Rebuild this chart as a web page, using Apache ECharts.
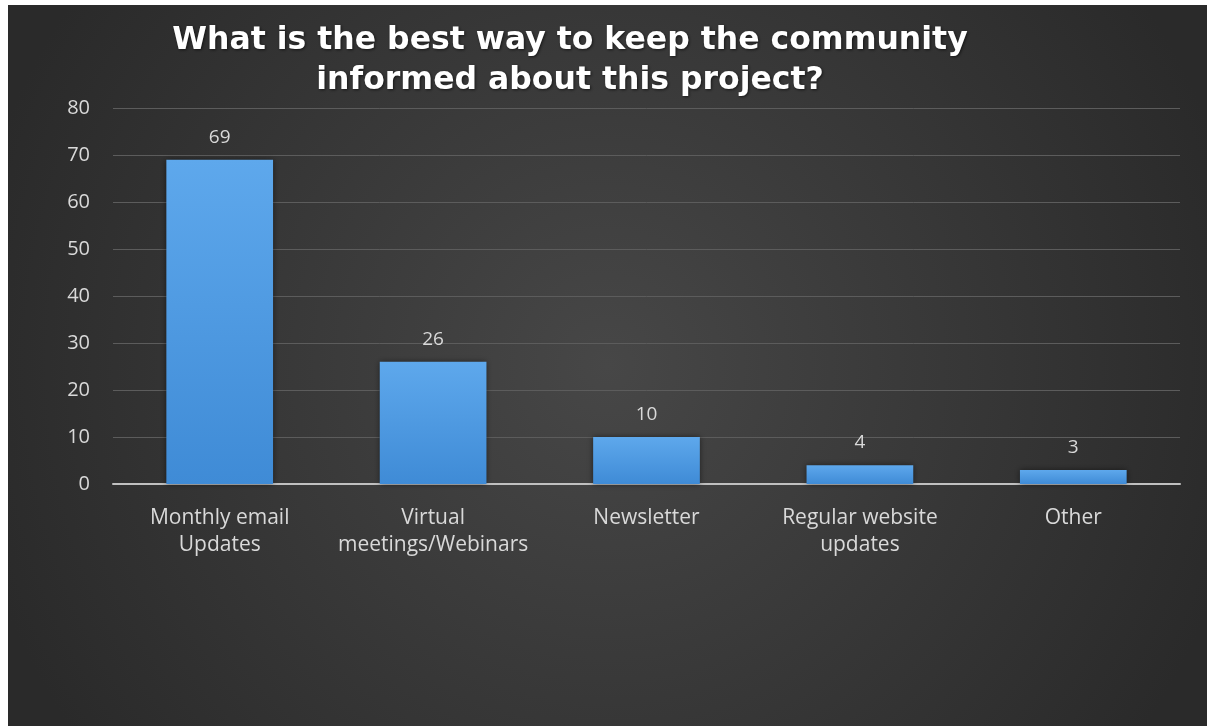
<!DOCTYPE html>
<html>
<head>
<meta charset="utf-8">
<script src="https://cdn.jsdelivr.net/npm/echarts@6/dist/echarts.min.js"></script>
<style>
html,body{margin:0;padding:0;background:#ffffff;}
#chart{position:absolute;left:0;top:0;width:1207px;height:726px;}
</style>
</head>
<body>
<div id="chart"></div>
<script>
const titleLines = ["What is the best way to keep the community", "informed about this project?"];
const categories = ["Monthly email\nUpdates", "Virtual\nmeetings/Webinars", "Newsletter", "Regular website\nupdates", "Other"];
const values = [69, 26, 10, 4, 3];
const yTicks = { min: 0, max: 80, interval: 10 };

const chart = echarts.init(document.getElementById('chart'), null, { renderer: 'canvas' });
const labelColor = '#d9d9d9';
const labelFont = '"Open Sans"';
const option = {
  backgroundColor: 'transparent',
  animation: false,
  graphic: [
    {
      type: 'rect', z: -10, silent: true,
      shape: { x: 8, y: 5, width: 1199, height: 721 },
      style: {
        fill: {
          type: 'radial', x: 0.5, y: 0.5, r: 0.9,
          colorStops: [
            { offset: 0, color: '#474747' },
            { offset: 1, color: '#2a2a2a' }
          ]
        }
      }
    },
    {
      type: 'text', z: 10, silent: true,
      x: 570, y: 21,
      style: {
        text: titleLines.join('\n'),
        fill: '#ffffff',
        font: 'bold 31.5px "DejaVu Sans"',
        lineHeight: 40,
        align: 'center',
        verticalAlign: 'top',
        textShadowColor: 'rgba(0,0,0,0.6)',
        textShadowBlur: 3,
        textShadowOffsetX: 1,
        textShadowOffsetY: 1
      }
    }
  ],
  grid: { left: 113, right: 27, top: 108, bottom: 242, containLabel: false },
  xAxis: {
    type: 'category',
    data: categories,
    axisLine: { show: true, lineStyle: { color: '#c0c0c0', width: 2 } },
    axisTick: { show: false },
    axisLabel: {
      color: labelColor, fontFamily: labelFont, fontSize: 21, lineHeight: 27,
      margin: 21, interval: 0
    }
  },
  yAxis: {
    type: 'value',
    min: yTicks.min, max: yTicks.max, interval: yTicks.interval,
    axisLine: { show: false },
    axisTick: { show: false },
    axisLabel: { color: labelColor, fontFamily: labelFont, fontSize: 20, margin: 23 },
    splitLine: { lineStyle: { color: '#5c5c5c', width: 1 } }
  },
  series: [{
    type: 'bar',
    data: values,
    barWidth: '50%',
    itemStyle: {
      color: {
        type: 'linear', x: 0, y: 0, x2: 0, y2: 1,
        colorStops: [
          { offset: 0, color: '#5ea8ec' },
          { offset: 1, color: '#3f8bd6' }
        ]
      },
      shadowColor: 'rgba(0,0,0,0.5)',
      shadowBlur: 6
    },
    label: {
      show: true, position: 'top', distance: 13,
      color: labelColor, fontFamily: labelFont, fontSize: 19
    }
  }]
};
chart.setOption(option);
</script>
</body>
</html>
